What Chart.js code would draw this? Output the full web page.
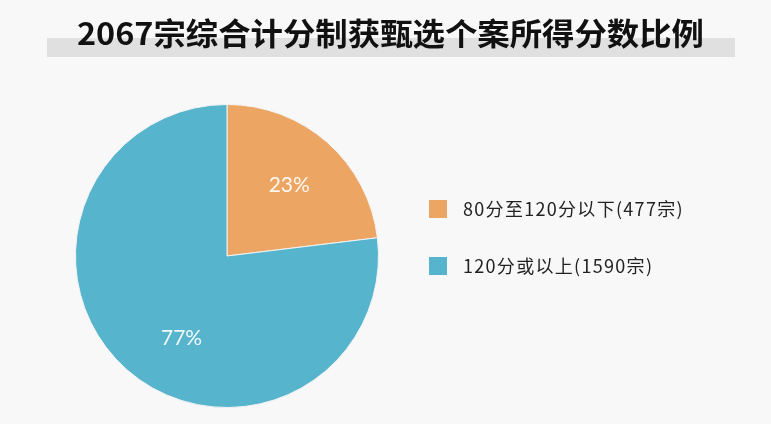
<!DOCTYPE html>
<html>
<head>
<meta charset="utf-8">
<script src="https://cdn.jsdelivr.net/npm/chart.js@4"></script>
<style>
  html, body { margin: 0; padding: 0; background: #f8f8f8; }
  #wrap { width: 771px; height: 424px; }
</style>
</head>
<body>
<div id="wrap"><canvas id="chart" width="771" height="424"></canvas></div>
<script>
// 数据
const categories = ['80分至120分以下(477宗)', '120分或以上(1590宗)'];
const cases = [477, 1590];
const colors = ['#eda563', '#56b4cc'];
const title = '2067宗综合计分制获甄选个案所得分数比例';

// 标题 + 灰色底条
const titlePlugin = {
  id: 'titleBar',
  beforeDraw(chart) {
    const ctx = chart.ctx;
    ctx.save();
    ctx.fillStyle = '#f8f8f8';
    ctx.fillRect(0, 0, chart.width, chart.height);
    ctx.fillStyle = '#e0e0e0';
    ctx.fillRect(47, 38, 688, 19);
    ctx.fillStyle = '#111';
    ctx.font = 'bold 31px "Noto Sans CJK SC"';
    ctx.textBaseline = 'middle';
    // 横向微调到原图宽度
    const w = ctx.measureText(title).width;
    ctx.translate(77, 33);
    ctx.scale(627 / w, 1);
    ctx.fillText(title, 0, 0);
    ctx.restore();
  }
};

// 百分比标签 + 右侧图例
const labelPlugin = {
  id: 'pctLabels',
  afterDatasetsDraw(chart) {
    const ctx = chart.ctx;
    const total = cases.reduce((a, b) => a + b, 0);
    const meta = chart.getDatasetMeta(0);
    ctx.save();
    ctx.fillStyle = 'rgba(255,255,255,0.92)';
    ctx.font = '21px Lato';
    ctx.textAlign = 'center';
    ctx.textBaseline = 'middle';
    const shift = [0, -0.22];
    meta.data.forEach((arc, i) => {
      const p = arc.getProps(['x', 'y', 'startAngle', 'endAngle', 'outerRadius'], true);
      const mid = (p.startAngle + p.endAngle) / 2 + shift[i];
      const r = p.outerRadius * 0.62;
      const pct = Math.round(cases[i] / total * 100) + '%';
      ctx.fillText(pct, p.x + Math.cos(mid) * r, p.y + Math.sin(mid) * r);
    });

    // 图例
    ctx.font = '18px "Noto Sans CJK SC"';
    ctx.letterSpacing = '1.3px';
    ctx.textAlign = 'left';
    categories.forEach((c, i) => {
      const y = 209 + i * 57;
      ctx.fillStyle = colors[i];
      ctx.fillRect(429, y - 9, 18, 18);
      ctx.fillStyle = '#222';
      ctx.fillText(c, 463, y);
    });
    ctx.restore();
  }
};

new Chart(document.getElementById('chart'), {
  type: 'pie',
  data: {
    labels: categories,
    datasets: [{
      data: cases,
      backgroundColor: colors,
      borderColor: '#f3f3f3',
      borderWidth: 1
    }]
  },
  options: {
    responsive: false,
    animation: false,
    layout: { padding: { left: 75, right: 392, top: 104, bottom: 16 } },
    plugins: {
      legend: { display: false },
      tooltip: { enabled: false }
    }
  },
  plugins: [titlePlugin, labelPlugin]
});
</script>
</body>
</html>
